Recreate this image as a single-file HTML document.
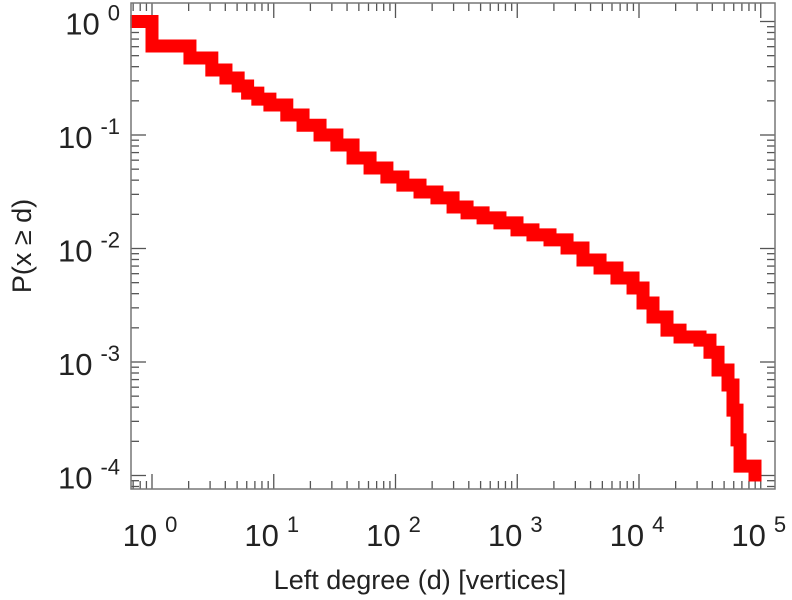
<!DOCTYPE html>
<html><head><meta charset="utf-8"><style>
html,body{margin:0;padding:0;background:#fff;}
svg{display:block;font-family:"Liberation Sans",sans-serif;}
</style></head><body>
<svg id="chart" width="792" height="600" viewBox="0 0 792 600" xmlns="http://www.w3.org/2000/svg">
<g id="ticks" stroke="#555" stroke-width="1.3"></g>
<g id="series"></g>
<rect x="131" y="3" width="644" height="486" fill="none" stroke="#777" stroke-width="1.5"/>
<g id="labels" fill="#222" font-size="31"></g>
<text x="420" y="589" text-anchor="middle" font-size="27" fill="#222">Left degree (d) [vertices]</text>
<text transform="translate(31,246) rotate(-90)" text-anchor="middle" font-size="27" fill="#222">P(x ≥ d)</text>
</svg>
<script>
const degrees=[0.75,1,2.05,3.1,4.05,5.1,6.1,7.4,9.3,12.8,17.4,24,33,44.8,61.8,85,115,159,219,297,387,524,721,995,1346,1858,2564,3467,4786,6592,8933,10790,13030,16980,21730,31700,38280,44570,53830,59150,63830,67600,89700];
const probs=[1,0.608,0.477,0.374,0.318,0.27,0.234,0.207,0.184,0.15,0.122,0.1,0.0817,0.0627,0.0512,0.0427,0.0362,0.0315,0.0279,0.0232,0.0206,0.0186,0.0168,0.0146,0.0132,0.0119,0.0101,0.00792,0.00673,0.0055,0.00449,0.00331,0.00249,0.00191,0.00166,0.00156,0.00122,0.000851,0.000627,0.000377,0.000206,0.000121,0.000101];
const xTickExps=[0,1,2,3,4,5];
const yTickExps=[0,-1,-2,-3,-4];
const NS="http://www.w3.org/2000/svg";
function xs(v){return 152+Math.log10(v)*121.75;}
function ys(v){return 21.5-Math.log10(v)*113.5;}
const L=131,R=775,T=3,B=489;
const tk=document.getElementById('ticks');
function line(x1,y1,x2,y2){const l=document.createElementNS(NS,'line');l.setAttribute('x1',x1);l.setAttribute('y1',y1);l.setAttribute('x2',x2);l.setAttribute('y2',y2);


tk.appendChild(l);}
for(let e=-1;e<=5;e++){for(let m=1;m<10;m++){const v=m*Math.pow(10,e);const x=xs(v);if(x<L+1||x>R-1)continue;const len=m===1?15:8;line(x,B,x,B-len);line(x,T,x,T+len);}}
for(let e=-5;e<=1;e++){for(let m=1;m<10;m++){const v=m*Math.pow(10,e);const y=ys(v);if(y<T+1||y>B-1)continue;const len=m===1?15:8;line(L,y,L+len,y);line(R,y,R-len,y);}}
const lb=document.getElementById('labels');
function lab(x,y,exp,anchor,name){const t=document.createElementNS(NS,'text');t.setAttribute('x',x);t.setAttribute('y',y);t.setAttribute('text-anchor',anchor);


t.innerHTML='10<tspan font-size="22" dy="-14" dx="8">'+exp+'</tspan>';lb.appendChild(t);}
xTickExps.forEach(e=>{lab(xs(Math.pow(10,e))-2,546,e,'middle','x-tick-label');});
yTickExps.forEach(e=>{lab(120,ys(Math.pow(10,e))+13,e,'end','y-tick-label');});
let d='';
for(let i=0;i<degrees.length;i++){const x=xs(degrees[i]),y=ys(probs[i]);if(i===0)d+='M'+x+','+y;else{d+='H'+x+'V'+y;}}
d+='H'+xs(degrees[degrees.length-1]);
const p=document.createElementNS(NS,'path');


p.setAttribute('d',d);p.setAttribute('fill','none');p.setAttribute('stroke','#ff0000');p.setAttribute('stroke-width','13');p.setAttribute('stroke-linejoin','miter');p.setAttribute('stroke-linecap','square');
document.getElementById('series').appendChild(p);
</script>
</body></html>
